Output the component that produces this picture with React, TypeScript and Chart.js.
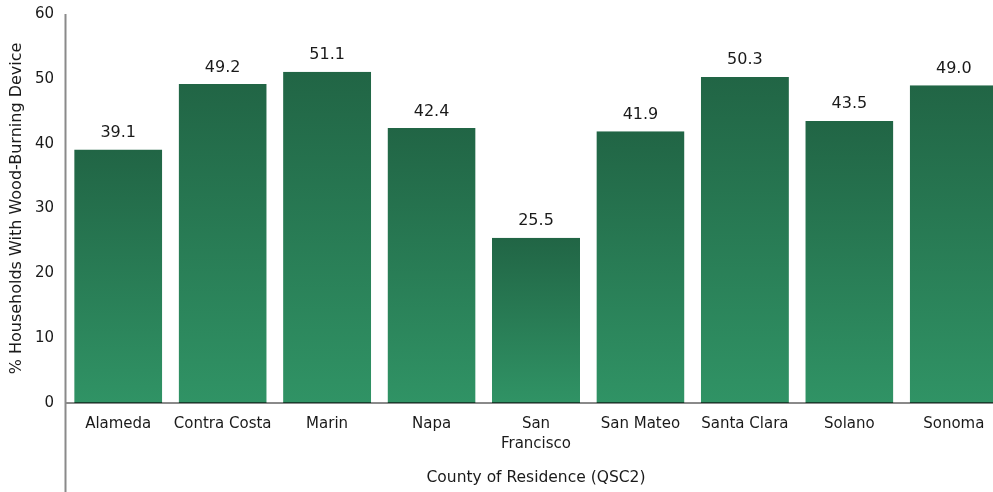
import React, { useEffect, useRef } from "react";
import { Chart, registerables } from "chart.js";

Chart.register(...registerables);

const categories: (string | string[])[] = [
  "Alameda",
  "Contra Costa",
  "Marin",
  "Napa",
  ["San", "Francisco"],
  "San Mateo",
  "Santa Clara",
  "Solano",
  "Sonoma",
];
const values: number[] = [39.1, 49.2, 51.1, 42.4, 25.5, 41.9, 50.3, 43.5, 49.0];
const yTitle = "% Households With Wood-Burning Device";
const xTitle = "County of Residence (QSC2)";

const FONT = "'DejaVu Sans', sans-serif";
const TEXT = "#1a1a1a";

const extrasPlugin = {
  id: "extras",
  afterDatasetsDraw(chart: any) {
    const { ctx, chartArea } = chart;
    ctx.save();
    ctx.strokeStyle = "#8a8a8a";
    ctx.lineWidth = 2;
    ctx.beginPath();
    ctx.moveTo(chartArea.left - 0.5, chartArea.top);
    ctx.lineTo(chartArea.left - 0.5, chart.height);
    ctx.stroke();
    const meta = chart.getDatasetMeta(0);
    ctx.fillStyle = TEXT;
    ctx.font = `16px ${FONT}`;
    ctx.textAlign = "center";
    ctx.textBaseline = "alphabetic";
    meta.data.forEach((bar: any, i: number) => {
      ctx.fillText(values[i].toFixed(1), bar.x, bar.y - 12.5);
    });
    ctx.restore();
  },
};

export default function App() {
  const ref = useRef<HTMLCanvasElement | null>(null);
  useEffect(() => {
    if (!ref.current) return;
    const chart = new Chart(ref.current, {
      type: "bar",
      data: {
        labels: categories,
        datasets: [
          {
            data: values,
            backgroundColor: (c: any) => {
              const ch = c.chart;
              const { ctx, chartArea, scales } = ch;
              if (!chartArea || c.type !== "data" || !scales.y) return "#2a7f56";
              const top = scales.y.getPixelForValue(c.raw);
              const bottom = scales.y.getPixelForValue(0);
              const g = ctx.createLinearGradient(0, top, 0, bottom);
              g.addColorStop(0, "#216545");
              g.addColorStop(1, "#309365");
              return g;
            },
            borderColor: "#173f2c",
            borderWidth: { top: 0, left: 0, right: 0, bottom: 1 },
            borderSkipped: false,
            categoryPercentage: 1,
            barPercentage: 0.843,
          },
        ],
      },
      options: {
        responsive: false,
        animation: false,
        layout: { padding: 0 },
        plugins: {
          legend: { display: false },
          tooltip: { enabled: false },
        },
        scales: {
          x: {
            grid: { display: false, drawTicks: false },
            border: { display: true, color: "#8a8a8a", width: 2 },
            ticks: {
              color: TEXT,
              font: { family: FONT, size: 15, lineHeight: 1.333 },
              padding: 11,
              maxRotation: 0,
              autoSkip: false,
            },
            title: {
              display: true,
              text: xTitle,
              color: TEXT,
              font: { family: FONT, size: 15.5, lineHeight: 1.2 },
              padding: { top: 0, bottom: 5 },
            },
            afterFit: (s: any) => {
              s.height = 89;
              s.paddingLeft = 0;
              s.paddingRight = 0;
            },
          },
          y: {
            min: 0,
            max: 60,
            grid: { display: false, drawTicks: false },
            border: { display: false },
            ticks: {
              stepSize: 10,
              color: TEXT,
              font: { family: FONT, size: 15 },
              padding: 12,
            },
            title: {
              display: true,
              text: yTitle,
              color: TEXT,
              font: { family: FONT, size: 16, lineHeight: 1.2 },
              padding: { top: 7, bottom: 0 },
            },
            afterFit: (s: any) => {
              s.width = 66;
              s.paddingTop = 14;
              s.paddingBottom = 0;
            },
          },
        },
      },
      plugins: [extrasPlugin],
    });
    return () => chart.destroy();
  }, []);
  return (
    <div
      style={{
        position: "fixed",
        left: 0,
        top: 0,
        width: 993,
        height: 492,
        overflow: "hidden",
        background: "#fff",
      }}
    >
      <canvas
        ref={ref}
        width={1006}
        height={492}
        style={{ width: 1006, height: 492, display: "block" }}
      />
    </div>
  );
}
